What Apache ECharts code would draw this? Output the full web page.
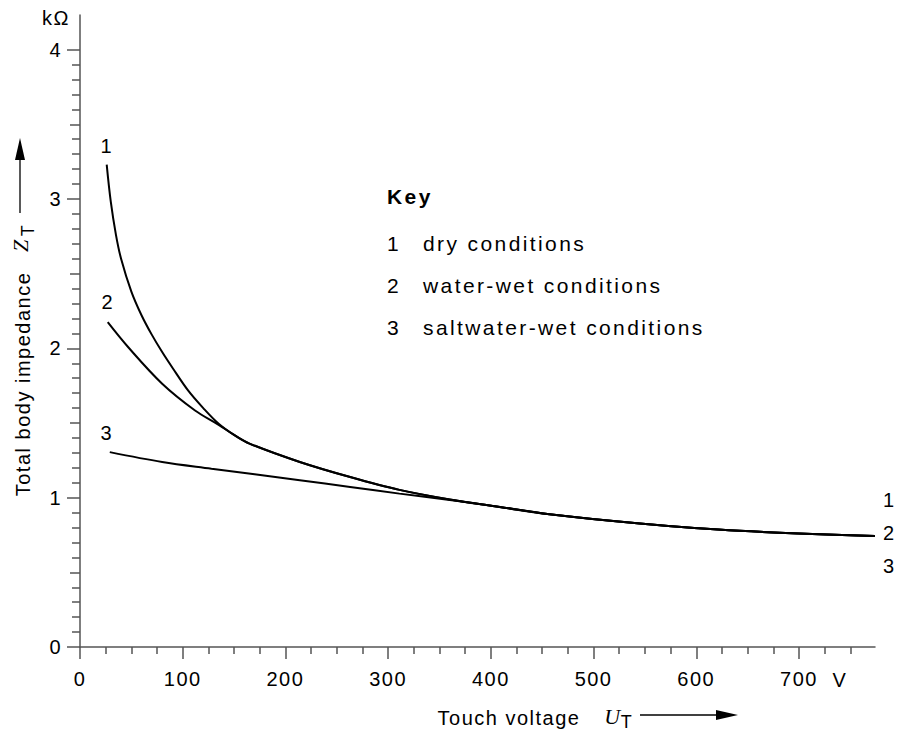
<!DOCTYPE html>
<html>
<head>
<meta charset="utf-8">
<title>Total body impedance vs touch voltage</title>
<script src="https://cdn.jsdelivr.net/npm/echarts@6/dist/echarts.min.js"></script>
<style>
  html, body { margin: 0; padding: 0; background: #fff; }
  #chart { width: 897px; height: 731px; }
  #chart text { letter-spacing: 1.5px; }
  #chart text[style*="21px"] { letter-spacing: 2.4px; }
</style>
</head>
<body>
<div id="chart"></div>
<script>
// touch voltage U_T (V) and total body impedance Z_T (kOhm)
var dryU  = [26, 30, 35, 40, 50, 60, 70, 80, 90, 105, 120, 135, 150, 165, 214, 263, 311, 360, 409, 457, 545, 642, 774];
var dryZ  = [3.23, 2.98, 2.76, 2.6, 2.38, 2.22, 2.09, 1.975, 1.87, 1.72, 1.6, 1.495, 1.42, 1.362, 1.239, 1.138, 1.052, 0.988, 0.938, 0.889, 0.827, 0.778, 0.743];
var wetU  = [27, 47, 80, 112, 135, 150, 165, 214, 263, 311, 360, 409, 457, 545, 642, 774];
var wetZ  = [2.175, 2.007, 1.763, 1.584, 1.488, 1.42, 1.362, 1.239, 1.138, 1.052, 0.988, 0.938, 0.889, 0.827, 0.778, 0.743];
var saltU = [29, 80, 128, 170, 214, 263, 311, 360, 400, 457, 545, 642, 774];
var saltZ = [1.305, 1.239, 1.194, 1.156, 1.116, 1.072, 1.027, 0.985, 0.946, 0.889, 0.827, 0.778, 0.743];

var curveNames = ['1', '2', '3'];
var keyTexts = ['dry conditions', 'water-wet conditions', 'saltwater-wet conditions'];

var xTicks = [0, 100, 200, 300, 400, 500, 600, 700];
var yTicks = [0, 1, 2, 3, 4];

var font = 'Liberation Sans, Arial, sans-serif';
var axisColor = '#555';

function steps(from, to, step, skip) {
  var out = [];
  for (var v = from; v <= to + 1e-9; v += step) {
    var r = Math.round(v * 1000) / 1000;
    if (!skip(r)) out.push(r);
  }
  return out;
}
var xMinor = steps(0, 750, 25, function (v) { return v % 100 === 0; });
var yHalf = [0.5, 1.5, 2.5, 3.5];
var yMinor = steps(0, 4, 0.1, function (v) { return Math.abs(v * 2 - Math.round(v * 2)) < 1e-6; });

function pairs(us, zs, name, dist, dx) {
  return us.map(function (u, i) {
    if (i === 0) {
      return {
        value: [u, zs[i]],
        label: { show: true, position: 'top', distance: dist, offset: [dx, 0], formatter: name,
                 fontSize: 20, color: '#000', fontFamily: font }
      };
    }
    return [u, zs[i]];
  });
}

function curve(us, zs, idx, dist, dx, endDy) {
  return {
    type: 'line',
    name: keyTexts[idx],
    data: pairs(us, zs, curveNames[idx], dist, dx),
    smooth: 0.35,
    showSymbol: true,
    symbolSize: 0,
    label: { show: false },
    lineStyle: { color: '#000', width: 2 },
    itemStyle: { color: '#000' },
    endLabel: { show: true, formatter: curveNames[idx], distance: 8, offset: [0, endDy],
                fontSize: 20, color: '#000', fontFamily: font },
    z: 3 - idx
  };
}

var xMax = 774, yMax = 4.232;

function xAxisDef(ticks, len, main) {
  return {
    type: 'value', min: 0, max: xMax, position: 'bottom', offset: 0,
    axisLine: { show: main, onZero: false, lineStyle: { color: axisColor, width: 1.5 } },
    axisTick: { show: true, length: len, customValues: ticks, lineStyle: { color: axisColor, width: 1.5 } },
    axisLabel: main ? { customValues: ticks, margin: 22, fontSize: 20, color: '#000', fontFamily: font }
                    : { show: false },
    splitLine: { show: false }, minorTick: { show: false }
  };
}
function yAxisDef(ticks, len, main) {
  return {
    type: 'value', min: 0, max: yMax, position: 'left', offset: 0,
    axisLine: { show: main, onZero: false, lineStyle: { color: axisColor, width: 1.5 } },
    axisTick: { show: true, length: len, customValues: ticks, lineStyle: { color: axisColor, width: 1.5 } },
    axisLabel: main ? { customValues: ticks, margin: 18, fontSize: 20, color: '#000', fontFamily: font }
                    : { show: false },
    splitLine: { show: false }, minorTick: { show: false }
  };
}

var graphics = [
  { type: 'text', x: 56, y: 18, style: { text: 'kΩ', fontSize: 20, fontFamily: font, fill: '#000', align: 'center', verticalAlign: 'middle' } },
  { type: 'text', x: 840, y: 680, style: { text: 'V', fontSize: 20, fontFamily: font, fill: '#000', align: 'center', verticalAlign: 'middle' } },
  // y axis name
  { type: 'text', x: 23, y: 384, rotation: Math.PI / 2,
    style: { text: 'Total body impedance', fontSize: 20, fontFamily: font, fill: '#000', align: 'center', verticalAlign: 'middle' } },
  { type: 'text', x: 20, y: 245, rotation: Math.PI / 2,
    style: { text: 'Z', fontSize: 22, fontStyle: 'italic', fontFamily: 'Liberation Serif, serif', fill: '#000', align: 'center', verticalAlign: 'middle' } },
  { type: 'text', x: 28, y: 230, rotation: Math.PI / 2,
    style: { text: 'T', fontSize: 18, fontFamily: font, fill: '#000', align: 'center', verticalAlign: 'middle' } },
  { type: 'line', shape: { x1: 20, y1: 213, x2: 20, y2: 158 }, style: { stroke: '#000', lineWidth: 1.3 } },
  { type: 'polygon', shape: { points: [[20, 138], [15, 160], [25, 160]] }, style: { fill: '#000' } },
  // x axis name
  { type: 'text', x: 509, y: 718,
    style: { text: 'Touch voltage', fontSize: 20, fontFamily: font, fill: '#000', align: 'center', verticalAlign: 'middle' } },
  { type: 'text', x: 613, y: 716,
    style: { text: 'U', fontSize: 22, fontStyle: 'italic', fontFamily: 'Liberation Serif, serif', fill: '#000', align: 'center', verticalAlign: 'middle' } },
  { type: 'text', x: 627, y: 722,
    style: { text: 'T', fontSize: 18, fontFamily: font, fill: '#000', align: 'center', verticalAlign: 'middle' } },
  { type: 'line', shape: { x1: 640, y1: 715, x2: 720, y2: 715 }, style: { stroke: '#000', lineWidth: 1.3 } },
  { type: 'polygon', shape: { points: [[738, 715], [716, 710], [716, 720]] }, style: { fill: '#000' } },
  // key
  { type: 'text', x: 387, y: 196,
    style: { text: 'Key', fontSize: 21, fontWeight: 'bold', fontFamily: font, fill: '#000', align: 'left', verticalAlign: 'middle' } }
];
var keyY = [243, 285, 327];
keyTexts.forEach(function (t, i) {
  graphics.push({ type: 'text', x: 387, y: keyY[i],
    style: { text: curveNames[i], fontSize: 21, fontFamily: font, fill: '#000', align: 'left', verticalAlign: 'middle' } });
  graphics.push({ type: 'text', x: 423, y: keyY[i],
    style: { text: t, fontSize: 21, fontFamily: font, fill: '#000', align: 'left', verticalAlign: 'middle' } });
});

var chart = echarts.init(document.getElementById('chart'), null, { renderer: 'svg' });
chart.setOption({
  animation: false,
  backgroundColor: '#fff',
  textStyle: { fontFamily: font },
  grid: { left: 80, right: 22, top: 15, bottom: 84, containLabel: false, outerBoundsMode: 'none' },
  xAxis: [xAxisDef(xTicks, 12, true), xAxisDef(xMinor, 7, false)],
  yAxis: [yAxisDef(yTicks, 13, true), yAxisDef(yHalf, 10, false), yAxisDef(yMinor, 8, false)],
  series: [
    curve(dryU, dryZ, 0, 9, 0, -36),
    curve(wetU, wetZ, 1, 10, 0, -3),
    curve(saltU, saltZ, 2, 9, -3, 30)
  ],
  graphic: graphics
});
</script>
</body>
</html>
